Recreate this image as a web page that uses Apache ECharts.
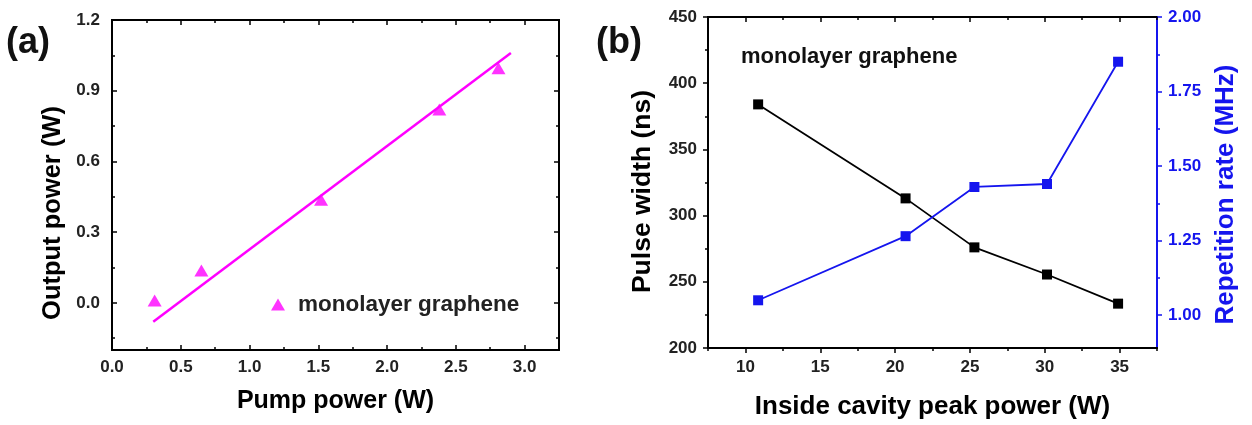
<!DOCTYPE html>
<html>
<head>
<meta charset="utf-8">
<script src="https://cdn.jsdelivr.net/npm/echarts@6/dist/echarts.min.js"></script>
<style>
  html, body { margin: 0; padding: 0; background: #fff; }
  #chart { width: 1252px; height: 425px; }
</style>
</head>
<body>
<div id="chart"></div>
<script>
// panel (a): output power vs pump power
const pumpPower = [0.31, 0.65, 1.52, 2.38, 2.81];
const outputPower = [0.01, 0.137, 0.437, 0.82, 0.995];
// fitted line, end points
const fitX = [0.30, 2.90];
const fitY = [-0.08, 1.06];

// panel (b): pulse width and repetition rate vs peak power
const peakPower = [10.85, 20.7, 25.3, 30.15, 34.9];
const pulseWidth = [384, 313, 276, 255.5, 233.5];
const repRate = [1.05, 1.265, 1.43, 1.44, 1.85];

// tick values
const aXMajor = [0, 0.5, 1.0, 1.5, 2.0, 2.5, 3.0];
const aXMinor = [0.25, 0.75, 1.25, 1.75, 2.25, 2.75];
const aYMajor = [0, 0.3, 0.6, 0.9, 1.2];
const aYMinor = [-0.15, 0.15, 0.45, 0.75, 1.05];
const bXMajor = [10, 15, 20, 25, 30, 35];
const bXMinor = [7.5, 12.5, 17.5, 22.5, 27.5, 32.5, 37.5];
const bYMajor = [200, 250, 300, 350, 400, 450];
const bYMinor = [225, 275, 325, 375, 425];
const bRMajor = [1.0, 1.25, 1.5, 1.75, 2.0];
const bRMinor = [1.125, 1.375, 1.625, 1.875];

const FONT = "Liberation Sans, Arial, sans-serif";
const MAGENTA = "#ff00ff";
const BLUE = "#1515ee";

let chart = echarts.init(document.getElementById("chart"));

// one axis that draws ticks (and optionally labels + name)
function axis(grid, pos, min, max, ticks, opt) {
  opt = opt || {};
  const color = opt.color || "#000";
  const a = {
    type: "value",
    gridIndex: grid,
    position: pos,
    min: min,
    max: max,
    splitLine: { show: false },
    axisLine: { show: true, onZero: false, lineStyle: { color: color, width: 2 } },
    axisTick: {
      show: true,
      inside: !!opt.inside,
      length: opt.len || 5,
      customValues: ticks,
      lineStyle: { color: color, width: 1.5 },
    },
    axisLabel: { show: false },
  };
  if (opt.labels) {
    a.axisLabel = {
      show: true,
      customValues: ticks,
      margin: opt.margin || 9,
      color: opt.labelColor || color,
      fontFamily: FONT,
      fontWeight: "bold",
      fontSize: opt.labelSize || 17,
      formatter: opt.fmt,
    };
  }
  if (opt.name) {
    a.name = opt.name;
    a.nameLocation = "middle";
    a.nameGap = opt.nameGap;
    a.nameRotate = opt.rotate;
    a.nameTextStyle = {
      color: color,
      fontFamily: FONT,
      fontWeight: "bold",
      fontSize: opt.nameSize || 22,
      padding: opt.namePad || 0,
    };
  }
  return a;
}

const fmt1 = (v) => v.toFixed(1);
const fmt2 = (v) => v.toFixed(2);
const fmt0 = (v) => String(v);

const xAxes = [
  // (a)
  axis(0, "bottom", 0, 3.25, aXMajor, { inside: true, labels: true, margin: 9, fmt: fmt1, labelColor: "#222",
    name: "Pump power (W)", nameGap: 39, nameSize: 25 }),
  axis(0, "bottom", 0, 3.25, aXMinor, { inside: true, len: 3 }),
  axis(0, "top", 0, 3.25, aXMajor, { inside: true }),
  axis(0, "top", 0, 3.25, aXMinor, { inside: true, len: 3 }),
  // (b)
  axis(1, "bottom", 7.5, 37.5, bXMajor, { labels: true, margin: 11, fmt: fmt0, labelColor: "#222",
    name: "Inside cavity peak power (W)", nameGap: 46, nameSize: 26 }),
  axis(1, "bottom", 7.5, 37.5, bXMinor, { len: 3 }),
  axis(1, "top", 7.5, 37.5, bXMajor, { inside: true }),
  axis(1, "top", 7.5, 37.5, bXMinor, { inside: true, len: 3 }),
];

const yAxes = [
  // (a)
  axis(0, "left", -0.2, 1.2, aYMajor, { inside: true, labels: true, margin: 12, fmt: fmt1, labelColor: "#222",
    name: "Output power (W)", nameGap: 46, rotate: 90, nameSize: 25.5, namePad: [0, 56, 0, 0] }),
  axis(0, "left", -0.2, 1.2, aYMinor, { inside: true, len: 3 }),
  axis(0, "right", -0.2, 1.2, aYMajor, { inside: true }),
  axis(0, "right", -0.2, 1.2, aYMinor, { inside: true, len: 3 }),
  // (b)
  axis(1, "left", 200, 450, bYMajor, { labels: true, margin: 11, fmt: fmt0, labelColor: "#222",
    name: "Pulse width (ns)", nameGap: 52, rotate: 90, nameSize: 26.5, namePad: [0, 18, 0, 0] }),
  axis(1, "left", 200, 450, bYMinor, { len: 3 }),
  axis(1, "right", 0.89, 2.0, bRMajor, { color: BLUE, labels: true, margin: 11, fmt: fmt2,
    name: "Repetition rate (MHz)", nameGap: 56, rotate: 90, nameSize: 26, namePad: [0, 24, 0, 0] }),
  axis(1, "right", 0.89, 2.0, bRMinor, { color: BLUE, len: 3 }),
];

chart.setOption({
  animation: false,
  backgroundColor: "#fff",
  title: [
    { text: "(a)", left: 6, top: 25, padding: 0, textStyle: { fontFamily: FONT, fontWeight: "bold", fontSize: 36, color: "#111" } },
    { text: "(b)", left: 596, top: 25, padding: 0, textStyle: { fontFamily: FONT, fontWeight: "bold", fontSize: 36, color: "#111" } },
    { text: "monolayer graphene", left: 741, top: 46, padding: 0, textStyle: { fontFamily: FONT, fontWeight: "bold", fontSize: 22, color: "#111" } },
  ],
  legend: {
    data: ["monolayer graphene"],
    left: 266,
    top: 288,
    itemWidth: 14,
    itemHeight: 12,
    textStyle: { fontFamily: FONT, fontWeight: "bold", fontSize: 22.5, color: "#222", padding: [0, 0, 0, 8] },
  },
  grid: [
    { left: 112, top: 20, width: 447, height: 330 },
    { left: 708, top: 17, width: 449, height: 331 },
  ],
  xAxis: xAxes,
  yAxis: yAxes,
  series: [
    {
      name: "monolayer graphene",
      type: "scatter",
      xAxisIndex: 0,
      yAxisIndex: 0,
      symbol: "triangle",
      symbolSize: [14, 12],
      itemStyle: { color: MAGENTA },
      data: pumpPower.map((x, i) => [x, outputPower[i]]),
    },
    {
      name: "fit",
      type: "line",
      xAxisIndex: 0,
      yAxisIndex: 0,
      showSymbol: false,
      lineStyle: { color: MAGENTA, width: 2.5 },
      itemStyle: { color: MAGENTA },
      data: fitX.map((x, i) => [x, fitY[i]]),
    },
    {
      name: "Pulse width",
      type: "line",
      xAxisIndex: 4,
      yAxisIndex: 4,
      symbol: "rect",
      symbolSize: 10,
      lineStyle: { color: "#000", width: 1.8 },
      itemStyle: { color: "#000" },
      data: peakPower.map((x, i) => [x, pulseWidth[i]]),
    },
    {
      name: "Repetition rate",
      type: "line",
      xAxisIndex: 4,
      yAxisIndex: 6,
      symbol: "rect",
      symbolSize: 10,
      lineStyle: { color: BLUE, width: 1.8 },
      itemStyle: { color: BLUE },
      data: peakPower.map((x, i) => [x, repRate[i]]),
    },
  ],
});
</script>
</body>
</html>
